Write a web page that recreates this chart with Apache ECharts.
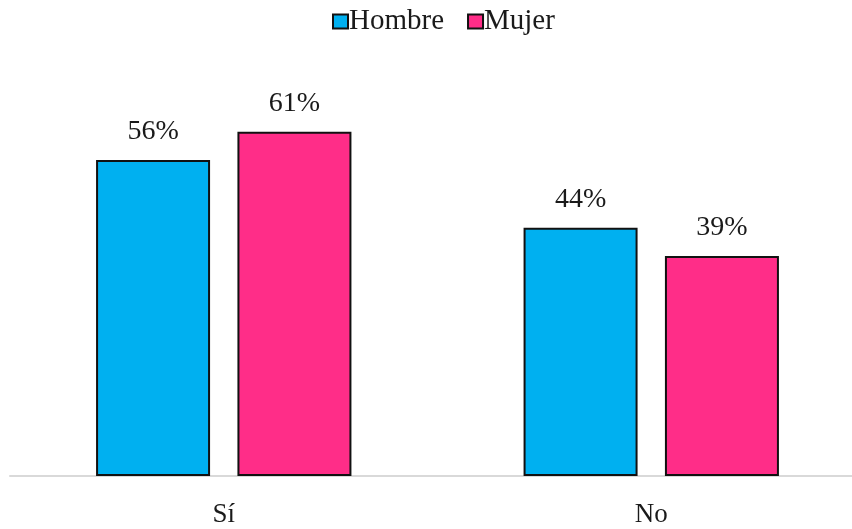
<!DOCTYPE html>
<html><head><meta charset="utf-8">
<script src="https://cdn.jsdelivr.net/npm/echarts@6/dist/echarts.min.js"></script>
<style>html,body{margin:0;padding:0;background:#fff;overflow:hidden;width:852px;height:529px}#c{width:866px;height:529px}</style>
</head><body><div id="c"></div>
<script>
const categories = ['Sí', 'No'];
const hombre = [56, 44];
const mujer = [61, 39];
const seriesNames = ['Hombre', 'Mujer'];

const font = '"Liberation Serif", "Times New Roman", serif';
const chart = echarts.init(document.getElementById('c'));
const lbl = {show: true, position: 'top', distance: 14, formatter: p => p.value + '%', fontFamily: font, fontSize: 28, color: '#1a1a1a'};
chart.setOption({
  animation: false,
  legend: {
    top: 2, left: 327, itemWidth: 15, itemHeight: 14, itemGap: 23,
    icon: 'rect',
    textStyle: {fontFamily: font, fontSize: 29, color: '#1a1a1a', padding: [0,0,0,-4]},
    data: seriesNames
  },
  grid: {left: 10, right: 1, top: 81, bottom: 53},
  xAxis: {
    type: 'category', data: categories,
    axisLine: {lineStyle: {color: '#d9d9d9', width: 2}},
    axisTick: {show: false},
    axisLabel: {fontFamily: font, fontSize: 27, color: '#1a1a1a', margin: 25}
  },
  yAxis: {type: 'value', min: 0, max: 70, show: false, splitLine: {show: false}},
  series: [
    {name: seriesNames[0], type: 'bar', data: hombre, barWidth: 114, barGap: '24%',
     itemStyle: {color: '#00B0F0', borderColor: '#111', borderWidth: 2}, label: lbl},
    {name: seriesNames[1], type: 'bar', data: mujer, barWidth: 114,
     itemStyle: {color: '#FF2D88', borderColor: '#111', borderWidth: 2}, label: lbl}
  ]
});
</script></body></html>
